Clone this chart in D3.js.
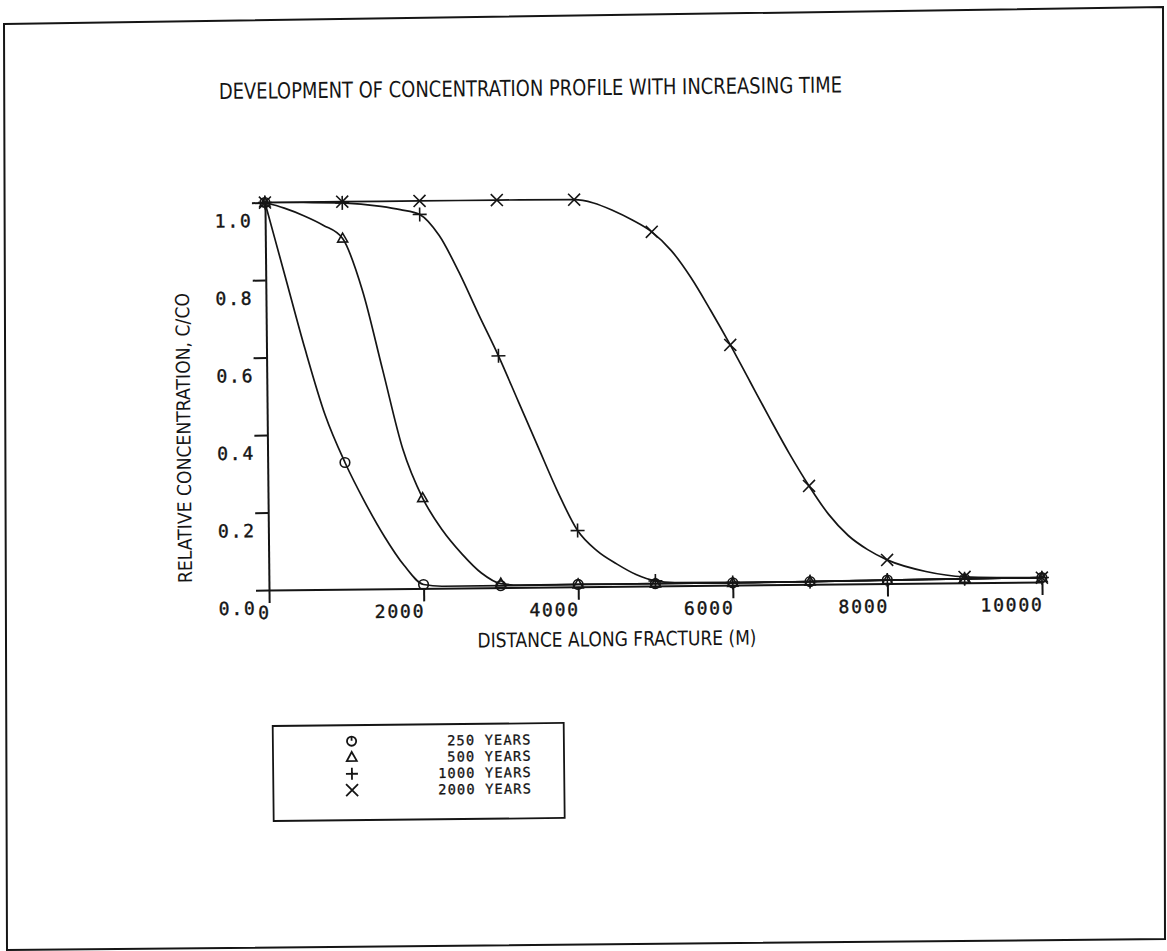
<!DOCTYPE html>
<html>
<head>
  <style>
    body { margin: 0; background: #fff; }
    svg { display: block; }
    .mono { font-family: "DejaVu Sans Mono", monospace; }
    .sans { font-family: "DejaVu Sans", sans-serif; }
  </style>
</head>
<body>
  <svg id="chart" width="1167" height="951"></svg>
<script src="https://cdn.jsdelivr.net/npm/d3@7"></script>
<script>
    // text
    const titleText = "DEVELOPMENT OF CONCENTRATION PROFILE WITH INCREASING TIME";
    const xLabel = "DISTANCE ALONG FRACTURE (M)";
    const yLabel = "RELATIVE CONCENTRATION, C/CO";
    const seriesNames = ["250 YEARS", "500 YEARS", "1000 YEARS", "2000 YEARS"];
    const seriesSymbols = ["circle", "triangle", "plus", "cross"];

    // ticks
    const xTicks = [0, 2000, 4000, 6000, 8000, 10000];
    const yTicks = [0, 0.2, 0.4, 0.6, 0.8, 1.0];
    const yTickLabels = ["0.0", "0.2", "0.4", "0.6", "0.8", "1.0"];

    // concentration profiles (distance in m, C/C0)
    const dist250 = [0, 250, 500, 750, 1000, 1250, 1500, 1750, 2000, 2250, 3000, 4000, 5000, 6000, 7000, 8000, 9000, 10000];
    const conc250 = [1.000, 0.810, 0.620, 0.450, 0.327, 0.225, 0.135, 0.060, 0.010, 0.005, 0.005, 0.006, 0.006, 0.006, 0.007, 0.009, 0.010, 0.011];

    const dist500 = [0, 250, 500, 750, 1000, 1250, 1500, 1750, 2000, 2250, 2500, 2750, 3000, 3250, 4000, 5000, 6000, 7000, 8000, 9000, 10000];
    const conc500 = [1.000, 0.985, 0.965, 0.940, 0.905, 0.770, 0.565, 0.360, 0.233, 0.150, 0.088, 0.038, 0.010, 0.006, 0.006, 0.006, 0.006, 0.007, 0.009, 0.010, 0.011];

    const dist1000 = [0, 500, 1000, 1500, 1750, 2000, 2250, 2500, 2750, 3000, 3250, 3500, 3750, 4000, 4250, 4500, 4750, 5000, 5250, 6000, 7000, 8000, 9000, 10000];
    const conc1000 = [1.000, 0.999, 0.997, 0.987, 0.978, 0.965, 0.910, 0.815, 0.705, 0.598, 0.480, 0.362, 0.245, 0.145, 0.092, 0.058, 0.030, 0.013, 0.008, 0.007, 0.007, 0.009, 0.010, 0.011];

    const dist2000 = [0, 1000, 2000, 3000, 4000, 4250, 4500, 4750, 5000, 5250, 5500, 5750, 6000, 6250, 6500, 6750, 7000, 7250, 7500, 7750, 8000, 8500, 9000, 9500, 10000];
    const conc2000 = [1.000, 1.000, 1.000, 1.000, 0.999, 0.990, 0.970, 0.945, 0.914, 0.865, 0.795, 0.710, 0.620, 0.525, 0.430, 0.338, 0.254, 0.180, 0.125, 0.088, 0.061, 0.030, 0.015, 0.012, 0.011];

    const seriesDist = [dist250, dist500, dist1000, dist2000];
    const seriesConc = [conc250, conc500, conc1000, conc2000];

    const ink = "#151515";
    const svg = d3.select("#chart");

    // scanned page frame (slightly skewed)
    svg.append("path")
      .attr("d", "M4,24 L1163,7 L1165,939 L7,950 Z")
      .attr("fill", "none")
      .attr("stroke", ink)
      .attr("stroke-width", 2);

    // the scan is rotated a little, pivot on the plot origin
    const ox = 269, oy = 590, tiltDeg = -0.6;
    const tilt = tiltDeg * Math.PI / 180;
    function unTilt(mx, my) {
      let dx = mx - ox, dy = my - oy;
      let c = Math.cos(tilt), s = Math.sin(tilt);
      return [ox + dx * c + dy * s, oy - dx * s + dy * c];
    }

    let page = svg.append("g")
      .attr("transform", `rotate(${tiltDeg}, ${ox}, ${oy})`);

    let x = d3.scaleLinear().domain([0, 10000]).range([ox, 1042]);
    let y = d3.scaleLinear().domain([0, 1]).range([oy, 202.5]);

    // title
    let tp = unTilt(219, 99);
    page.append("text")
      .attr("class", "sans")
      .attr("x", tp[0]).attr("y", tp[1])
      .attr("font-size", 22)
      .attr("textLength", 623)
      .attr("lengthAdjust", "spacingAndGlyphs")
      .attr("fill", ink)
      .text(titleText);

    // axes
    let yAxis = d3.axisLeft(y)
      .tickValues(yTicks)
      .tickSize(13)
      .tickSizeOuter(0)
      .tickFormat((d, i) => yTickLabels[i]);
    let gy = page.append("g")
      .attr("transform", `translate(${ox},0)`)
      .call(yAxis);

    let xAxis = d3.axisBottom(x)
      .tickValues(xTicks)
      .tickSize(13)
      .tickSizeOuter(0)
      .tickFormat(d => String(d));
    let gx = page.append("g")
      .attr("transform", `translate(0,${oy})`)
      .call(xAxis);

    [gx, gy].forEach(g => {
      g.selectAll("path, line").attr("stroke", ink).attr("stroke-width", 2);
      g.selectAll("text")
        .attr("class", "mono")
        .attr("font-size", 18)
        .attr("letter-spacing", 1.8)
        .attr("fill", ink)
        .attr("stroke", ink)
        .attr("stroke-width", 0.4)
        .attr("text-anchor", "end");
    });
    gy.selectAll("text").attr("x", -12.5).attr("dy", null).attr("y", 24);
    gx.selectAll("text").attr("x", 1).attr("dy", null).attr("y", 29);

    // axis titles
    let xl = unTilt(617, 646);
    page.append("text")
      .attr("class", "sans")
      .attr("x", xl[0]).attr("y", xl[1])
      .attr("text-anchor", "middle")
      .attr("font-size", 20)
      .attr("textLength", 279)
      .attr("lengthAdjust", "spacingAndGlyphs")
      .attr("fill", ink)
      .text(xLabel);

    let yl = unTilt(190.5, 438);
    page.append("text")
      .attr("class", "sans")
      .attr("transform", `translate(${yl[0]},${yl[1]}) rotate(-90)`)
      .attr("text-anchor", "middle")
      .attr("font-size", 19)
      .attr("textLength", 290)
      .attr("lengthAdjust", "spacingAndGlyphs")
      .attr("fill", ink)
      .text(yLabel);

    // marker shapes
    function drawSymbol(g, kind, legend) {
      if (kind === "circle") {
        g.append("circle").attr("r", legend ? 4.6 : 4.8);
        if (legend) g.append("path").attr("d", "M0,-5 V-0.5");
      } else if (kind === "triangle") {
        g.append("path").attr("d", "M0,-5.5 L5,3.5 L-5,3.5 Z");
      } else if (kind === "plus") {
        g.append("path").attr("d", legend ? "M-6,0 H6 M0,-6 V6" : "M-7,0 H7 M0,-7 V7");
      } else {
        g.append("path").attr("d", "M-6,-6 L6,6 M-6,6 L6,-6");
      }
    }

    // curves
    let line = d3.line()
      .x(d => x(d[0]))
      .y(d => y(d[1]))
      .curve(d3.curveMonotoneX);

    seriesDist.forEach((dist, i) => {
      let pts = dist.map((d, j) => [d, seriesConc[i][j]]);
      page.append("path")
        .datum(pts)
        .attr("d", line)
        .attr("fill", "none")
        .attr("stroke", ink)
        .attr("stroke-width", 1.7);

      let marks = page.append("g")
        .attr("fill", "none")
        .attr("stroke", ink)
        .attr("stroke-width", 1.6)
        .selectAll("g")
        .data(pts.filter(p => p[0] % 1000 === 0))
        .join("g")
        .attr("transform", p => `translate(${x(p[0])},${y(p[1])})`);
      marks.each(function () { drawSymbol(d3.select(this), seriesSymbols[i], false); });
    });

    // legend
    let lb = unTilt(272.7, 726);
    let legend = page.append("g");
    legend.append("rect")
      .attr("x", lb[0]).attr("y", lb[1])
      .attr("width", 291).attr("height", 95)
      .attr("fill", "none")
      .attr("stroke", ink)
      .attr("stroke-width", 1.8);

    let rowY = d3.scalePoint().domain(seriesNames).range([742, 791]);
    seriesNames.forEach((name, i) => {
      let sg = legend.append("g")
        .attr("transform", `translate(350,${rowY(name)})`)
        .attr("fill", "none")
        .attr("stroke", ink)
        .attr("stroke-width", 1.8);
      drawSymbol(sg, seriesSymbols[i], true);
      legend.append("text")
        .attr("class", "mono")
        .attr("x", 530).attr("y", rowY(name) + 5.1)
        .attr("text-anchor", "end")
        .attr("font-size", 13.6)
        .attr("letter-spacing", 1.2)
        .attr("fill", ink)
        .attr("stroke", ink)
        .attr("stroke-width", 0.3)
        .text(name);
    });
</script>
</body>
</html>
